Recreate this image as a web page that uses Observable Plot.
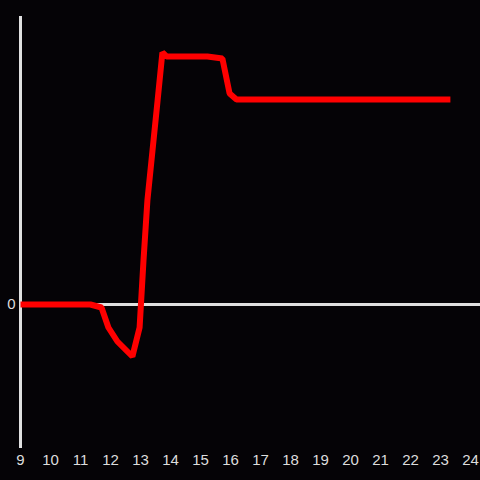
<!DOCTYPE html>
<html>
<head>
<meta charset="utf-8">
<script src="https://cdn.jsdelivr.net/npm/d3@7"></script>
<script src="https://cdn.jsdelivr.net/npm/@observablehq/plot@0.6"></script>
<style>
  html, body { margin: 0; padding: 0; background: #050306; }
</style>
</head>
<body>
<div id="chart"></div>
<script>
const hours = [9.0, 11.33, 11.7, 11.93, 12.23, 12.73, 12.97, 13.1, 13.23, 13.4, 13.57, 13.73, 13.87, 15.23, 15.73, 15.97, 16.2, 23.33];
const values = [0, 0, -3, -23, -37, -52, -23, 44, 104, 154, 204, 252, 248, 248, 246, 211, 205, 205];
const xTicks = [9, 10, 11, 12, 13, 14, 15, 16, 17, 18, 19, 20, 21, 22, 23, 24];
const yTicks = [0];
const yDomain = [-144, 288];

const data = hours.map((h, i) => ({h, v: values[i]}));

const chart = Plot.plot({
  width: 480,
  height: 480,
  marginLeft: 20,
  marginRight: 10,
  marginTop: 16,
  marginBottom: 32,
  style: {background: "#050306", color: "#dddddd", fontFamily: "Liberation Sans, Arial, sans-serif"},
  x: {domain: [9, 24]},
  y: {domain: yDomain},
  marks: [
    Plot.axisX(xTicks, {tickSize: 0, tickPadding: 6, label: null, fontSize: 15, fill: "#dddddd"}),
    Plot.axisY(yTicks, {tickSize: 0, tickPadding: 5, label: null, fontSize: 15, fill: "#dddddd"}),
    Plot.ruleY([0], {stroke: "#e0e0e0", strokeWidth: 3, insetRight: -10}),
    Plot.ruleX([9], {stroke: "#e0e0e0", strokeWidth: 3}),
    Plot.line(data, {x: "h", y: "v", stroke: "#ff0000", strokeWidth: 6, strokeLinejoin: "miter", strokeLinecap: "butt"})
  ]
});
document.getElementById("chart").appendChild(chart);
</script>
</body>
</html>
